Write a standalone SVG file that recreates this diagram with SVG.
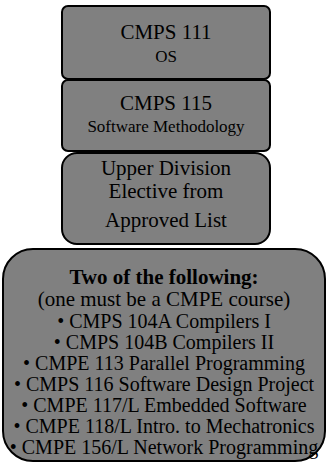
<svg xmlns="http://www.w3.org/2000/svg" width="328" height="464" viewBox="0 0 328 464">
<style>
.box{fill:#808080;stroke:#000;stroke-width:2}
text{font-family:"Liberation Serif","Times New Roman",serif;fill:#000;text-anchor:middle}
.t{font-size:21px}
.s{font-size:17px}
.b{font-size:21px;font-weight:bold}
.l{font-size:20px}
</style>
<g id="connectors"></g>
<g id="cmps111">
<rect class="box" x="62" y="6" width="208" height="73" rx="6"/>
<text class="t" x="166" y="39">CMPS 111</text>
<text class="s" x="166" y="62">OS</text>
</g>
<g id="cmps115">
<rect class="box" x="62" y="80" width="208" height="71" rx="6"/>
<text class="t" x="166" y="110">CMPS 115</text>
<text class="s" x="166" y="132">Software Methodology</text>
</g>
<g id="elective">
<rect class="box" x="62" y="153" width="208" height="91" rx="15"/>
<text class="t" x="166" y="175">Upper Division</text>
<text class="t" x="166" y="198">Elective from</text>
<text class="t" x="166" y="227">Approved List</text>
</g>
<g id="twoof">
<rect class="box" x="3" y="249" width="322" height="212" rx="30"/>
<text class="b" x="164" y="284">Two of the following:</text>
<text class="t" x="164" y="306">(one must be a CMPE course)</text>
<text class="l" x="164" y="328">• CMPS 104A Compilers I</text>
<text class="l" x="164" y="349">• CMPS 104B Compilers II</text>
<text class="l" x="164" y="370">• CMPE 113 Parallel Programming</text>
<text class="l" x="164" y="391">• CMPS 116 Software Design Project</text>
<text class="l" x="164" y="412">• CMPE 117/L Embedded Software</text>
<text class="l" x="164" y="433">• CMPE 118/L Intro. to Mechatronics</text>
<text class="l" x="164" y="454">• CMPE 156/L Network Programming</text>
</g>
</svg>
